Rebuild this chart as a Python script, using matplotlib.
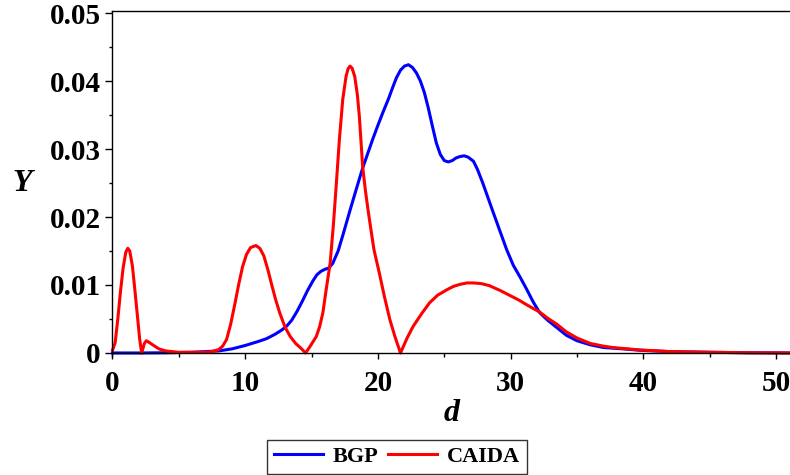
import matplotlib
matplotlib.use("Agg")
import matplotlib.pyplot as plt
from matplotlib.ticker import MultipleLocator, FuncFormatter

# values
bgp_d = [0, 2, 4, 6, 8, 9, 10, 10.5, 11, 11.6, 12.2, 12.7, 13.1, 13.5, 13.9,
         14.3, 14.7, 15.1, 15.4, 15.7, 16.0, 16.3, 16.6, 17.0, 17.4, 17.9,
         18.4, 18.85, 19.6, 20.0, 20.4, 20.8, 21.1, 21.4, 21.7, 22.0, 22.3,
         22.6, 22.9, 23.2, 23.5, 23.8, 24.1, 24.4, 24.7, 25.0, 25.3, 25.6,
         25.9, 26.2, 26.5, 26.8, 27.2, 27.5, 27.9, 28.3, 28.7, 29.2, 29.7,
         30.2, 30.7, 31.2, 31.7, 32.2, 32.8, 33.5, 34.2, 35, 36, 37, 38.5,
         39.7, 42, 45, 48, 51.5]
bgp_y = [0.0, 0.0, 0.00003, 0.0001, 0.0003, 0.0006, 0.0011, 0.0014, 0.0017,
         0.0021, 0.0027, 0.0033, 0.0039, 0.0048, 0.0061, 0.0076, 0.0092,
         0.0106, 0.0115, 0.0120, 0.0123, 0.0125, 0.0132, 0.0150, 0.0176,
         0.0210, 0.0243, 0.0272, 0.0314, 0.0335, 0.0355, 0.0374, 0.0390,
         0.0405, 0.0416, 0.0422, 0.0424, 0.0420, 0.0412, 0.0400, 0.0383,
         0.0360, 0.0334, 0.0309, 0.0292, 0.0283, 0.0281, 0.0283, 0.0287,
         0.0289, 0.0290, 0.0288, 0.0282, 0.0270, 0.0250, 0.0228, 0.0206,
         0.0179, 0.0152, 0.0129, 0.0112, 0.0094, 0.0075, 0.0059, 0.0048,
         0.0037, 0.0026, 0.0018, 0.0012, 0.0008, 0.0006, 0.0004, 0.0002,
         0.0001, 0.00003, 0.0]

caida_d = [0, 0.2, 0.4, 0.6, 0.8, 1.0, 1.15, 1.3, 1.5, 1.7, 1.9, 2.05, 2.2,
           2.4, 2.55, 2.8, 3.1, 3.5, 4, 4.5, 5, 6, 7, 7.5, 8, 8.3, 8.6, 8.9,
           9.2, 9.5, 9.8, 10.1, 10.4, 10.8, 11.1, 11.4, 11.7, 12.0, 12.3,
           12.6, 13.0, 13.4, 13.8, 14.2, 14.55, 14.9, 15.35, 15.6, 15.85,
           16.1, 16.4, 16.65, 16.87, 17.1, 17.35, 17.6, 17.75, 17.9, 18.05,
           18.25, 18.45, 18.6, 18.85, 19.05, 19.25, 19.5, 19.7, 20.1, 20.5,
           20.9, 21.3, 21.7, 22.2, 22.65, 23.3, 23.9, 24.5, 25.2, 25.7, 26.2,
           26.7, 27.2, 27.8, 28.4, 29.2, 30, 30.6, 31.2, 32.2, 32.8, 33.5,
           34.2, 35, 36, 37, 37.7, 39.7, 42, 45, 48, 51.5]
caida_y = [0.0004, 0.0015, 0.005, 0.009, 0.0125, 0.0148, 0.0154, 0.0150,
           0.0128, 0.0090, 0.0050, 0.0020, 0.0, 0.0014, 0.0018, 0.0015,
           0.0011, 0.0006, 0.0003, 0.0002, 0.0001, 0.0001, 0.0001, 0.0002,
           0.0005, 0.0010, 0.0020, 0.0042, 0.0070, 0.0100, 0.0127, 0.0145,
           0.0155, 0.0158, 0.0154, 0.0143, 0.0123, 0.0100, 0.0078, 0.0059,
           0.0038, 0.0024, 0.0014, 0.0007, 0.0, 0.0010, 0.0024, 0.0038,
           0.0059, 0.0093, 0.0132, 0.0190, 0.0250, 0.0315, 0.0373, 0.0407,
           0.0418, 0.0422, 0.0419, 0.0407, 0.0380, 0.0348, 0.0274, 0.0240,
           0.0211, 0.0178, 0.0152, 0.0118, 0.0082, 0.0049, 0.0023, 0.0,
           0.0022, 0.0039, 0.0058, 0.0074, 0.0085, 0.0093, 0.0098, 0.0101,
           0.0103, 0.0103, 0.0102, 0.0099, 0.0092, 0.0084, 0.0078, 0.0071,
           0.0060, 0.0051, 0.0042, 0.0031, 0.0022, 0.0014, 0.0010, 0.0008,
           0.00045, 0.0002, 0.0001, 0.00003, 0.0]

plt.rcParams['font.family'] = ['Liberation Serif', 'DejaVu Serif']
plt.rcParams['font.weight'] = 'bold'

fig = plt.figure(figsize=(7.9, 4.75), dpi=100)
ax = fig.add_axes([0.1424, 0.2512, 0.8576, 0.7256])

ax.plot(bgp_d, bgp_y, color='#0000ff', lw=2.2, label='BGP', clip_on=False)
ax.plot(caida_d, caida_y, color='#ff0000', lw=2.2, label='CAIDA', clip_on=False)

ax.set_xlim(0, 51.05)
ax.set_ylim(-0.0004, 0.0503)

ax.spines['right'].set_visible(False)
ax.spines['bottom'].set_position(('data', 0))
for s in ['left', 'bottom', 'top']:
    ax.spines[s].set_linewidth(1.0)

ax.xaxis.set_major_locator(MultipleLocator(10))
ax.xaxis.set_minor_locator(MultipleLocator(5))
ax.yaxis.set_major_locator(MultipleLocator(0.01))
ax.yaxis.set_minor_locator(MultipleLocator(0.005))
ax.yaxis.set_major_formatter(FuncFormatter(lambda v, p: '%g' % round(v, 3)))

ax.tick_params(axis='y', which='major', length=5, width=1, pad=3.5, labelsize=21)
ax.tick_params(axis='y', which='minor', length=2.5, width=1)
ax.tick_params(axis='x', which='major', length=4, width=1, pad=8, labelsize=21)
ax.tick_params(axis='x', which='minor', length=3, width=1)

ax.set_xlabel('d', fontsize=23, fontstyle='italic', fontweight='bold', labelpad=2)
ax.set_ylabel('Y', fontsize=23, fontstyle='italic', fontweight='bold',
              rotation=0, va='center', labelpad=0)
ax.yaxis.set_label_coords(-0.1336, 0.5)

leg = fig.legend(loc='center', bbox_to_anchor=(0.5025, 0.0379), ncol=2,
                 prop={'size': 16, 'weight': 'bold'}, frameon=True, fancybox=False,
                 handlelength=2.2, handletextpad=0.45, columnspacing=0.45,
                 borderpad=0.3, borderaxespad=0)
leg.get_frame().set_edgecolor('black')
leg.get_frame().set_linewidth(1.0)

fig.savefig('out.png', dpi=100)
